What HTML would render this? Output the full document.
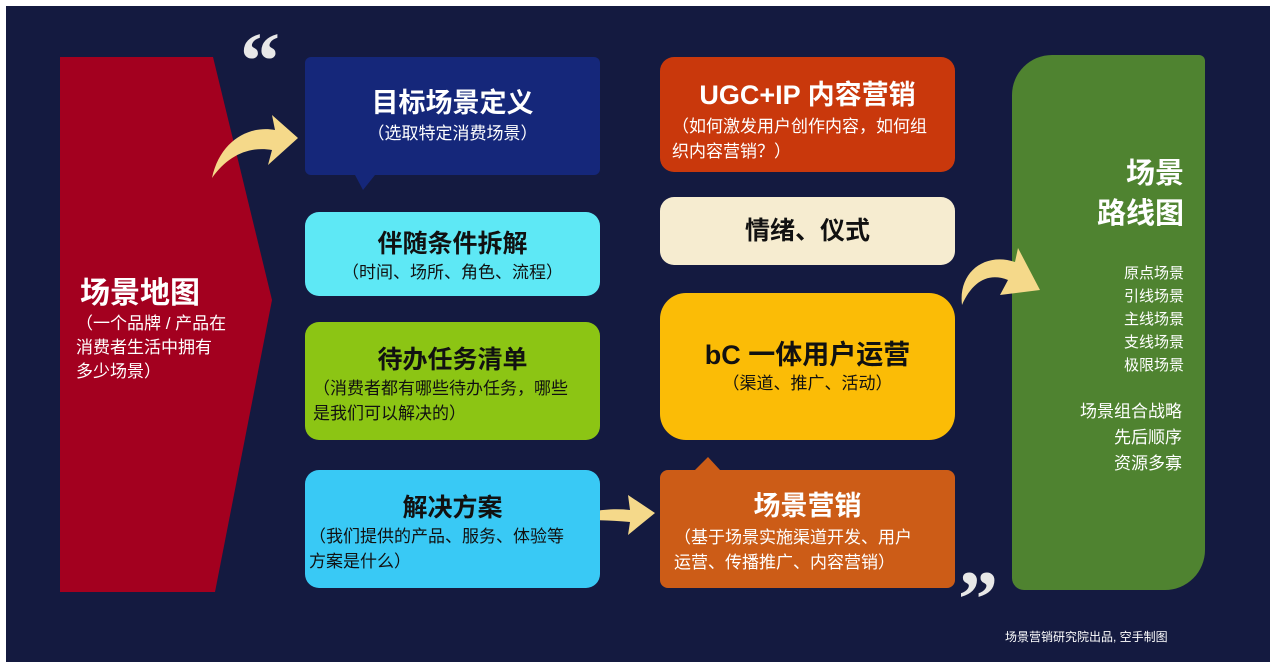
<!DOCTYPE html>
<html><head><meta charset="utf-8"><style>
*{margin:0;padding:0;box-sizing:border-box}
body{width:1278px;height:670px;background:#fff;position:relative;overflow:hidden;font-family:"Liberation Sans","Noto Sans CJK SC",sans-serif}
#bg{position:absolute;left:6px;top:6px;width:1264px;height:656px;background:#141a40}
.b{position:absolute;text-align:center;border-radius:14px}
.t{font-weight:bold;font-size:27px;line-height:32px}
.s{font-size:17px;line-height:25px;white-space:nowrap}
.w{color:#fff}
.k{color:#111}
.a{position:absolute;color:#fff;font-size:15px;white-space:nowrap}
.q{position:absolute;font-size:80px;line-height:80px;font-family:'Liberation Serif',serif;font-weight:bold;color:#e8e8e8}
</style></head><body>
<div id="bg"></div>
<svg style="position:absolute;left:0;top:0" width="1278" height="670">
<polygon points="60,57 213,57 272,300 215,592 60,592" fill="#a3001f"/>
<path d="M212,178 C220,140 250,125 275,130 L272,115 L298,138 L268,165 L272,150 C250,146 228,155 212,178Z" fill="#f5d98a"/>
<path d="M565,520 C590,510 610,508 630,510 L628,495 L655,513 L628,535 L630,522 C610,520 590,520 565,520Z" fill="#f5d98a"/>
<polygon points="355,175 375,175 363,190" fill="#15277a"/>
<polygon points="695,470 720,470 708,457" fill="#cc5c17"/>
</svg>
<div class="q" style="left:240px;top:22px">“</div>
<div class="q" style="left:958px;top:560px">”</div>

<div class="a" style="left:80px;top:268px;font-size:30px;font-weight:bold">场景地图</div>
<div class="a" style="left:76px;top:312px;font-size:17px;line-height:24px">（一个品牌 / 产品在<br>消费者生活中拥有<br>多少场景）</div>

<div class="b w" style="left:305px;top:57px;width:295px;height:118px;background:#15277a;border-radius:6px;padding-top:30px"><div class="t">目标场景定义</div><div class="s" style="margin-top:2px">（选取特定消费场景）</div></div>
<div class="b k" style="left:305px;top:212px;width:295px;height:84px;background:#5ee8f5;padding-top:16px"><div class="t" style="font-size:25px">伴随条件拆解</div><div class="s">（时间、场所、角色、流程）</div></div>
<div class="b k" style="left:305px;top:322px;width:295px;height:118px;background:#8cc514;padding-top:22px"><div class="t" style="font-size:25px">待办任务清单</div><div class="s" style="text-align:left;padding:0 8px">（消费者都有哪些待办任务，哪些<br>是我们可以解决的）</div></div>
<div class="b k" style="left:305px;top:470px;width:295px;height:118px;background:#39c9f5;padding-top:22px"><div class="t" style="font-size:25px">解决方案</div><div class="s" style="text-align:left;padding:0 4px">（我们提供的产品、服务、体验等<br>方案是什么）</div></div>

<div class="b w" style="left:660px;top:57px;width:295px;height:115px;background:#c9380c;padding-top:22px"><div class="t">UGC+IP 内容营销</div><div class="s" style="text-align:left;padding:0 12px;margin-top:3px">（如何激发用户创作内容，如何组<br>织内容营销？）</div></div>
<div class="b k" style="left:660px;top:197px;width:295px;height:68px;background:#f6ecd0;padding-top:18px"><div class="t" style="font-size:25px">情绪、仪式</div></div>
<div class="b k" style="left:660px;top:293px;width:295px;height:147px;background:#fbbc06;border-radius:26px;padding-top:46px"><div class="t">bC 一体用户运营</div><div class="s">（渠道、推广、活动）</div></div>
<div class="b w" style="left:660px;top:470px;width:295px;height:118px;background:#cc5c17;border-radius:8px;padding-top:20px"><div class="t">场景营销</div><div class="s" style="text-align:left;padding:0 14px;margin-top:3px">（基于场景实施渠道开发、用户<br>运营、传播推广、内容营销）</div></div>

<div style="position:absolute;left:1012px;top:55px;width:193px;height:535px;background:#4f8330;border-radius:40px 6px 40px 12px"></div>
<svg style="position:absolute;left:0;top:0" width="1278" height="670">
<path d="M962,305 C958,272 985,252 1015,262 L1018,248 L1040,290 L1000,295 L1008,280 C988,272 972,282 962,305Z" fill="#f5d98a"/>
</svg>
<div class="a" style="right:94px;top:154px;font-size:29px;font-weight:bold;line-height:40px;text-align:right">场景<br>路线图</div>
<div class="a" style="right:94px;top:262px;font-size:15px;line-height:23px;text-align:right">原点场景<br>引线场景<br>主线场景<br>支线场景<br>极限场景</div>
<div class="a" style="right:96px;top:399px;font-size:17px;line-height:26px;text-align:right">场景组合战略<br>先后顺序<br>资源多寡</div>
<div class="a" style="left:1005px;top:628px;font-size:12px">场景营销研究院出品, 空手制图</div>
</body></html>
